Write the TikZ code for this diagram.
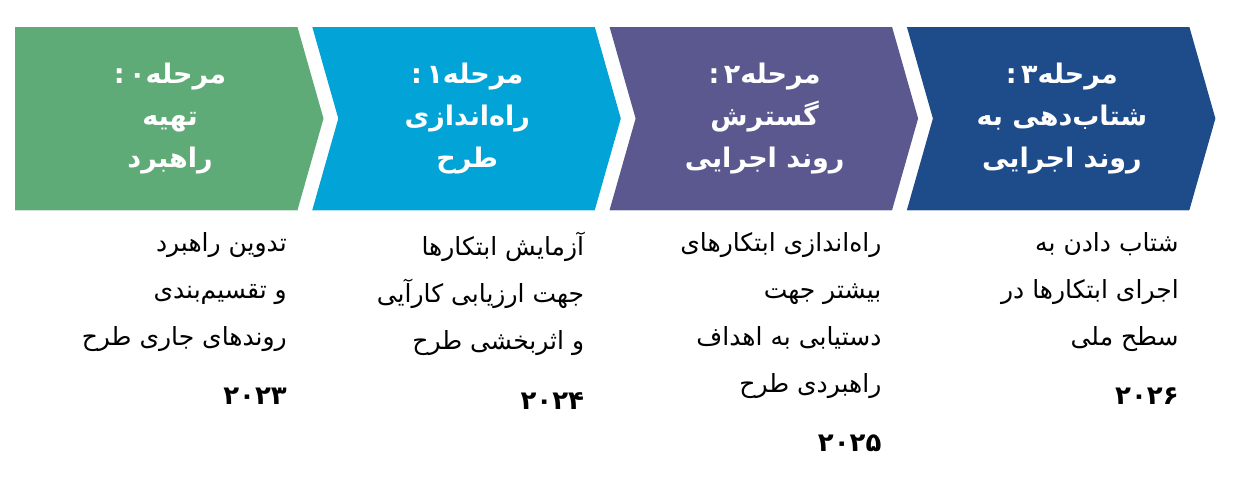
\documentclass[tikz,border=0pt]{standalone}
\usepackage{fontspec}
\newfontfamily\arabicfont[Script=Arabic]{DejaVu Sans}
\TeXXeTstate=1
\usetikzlibrary{positioning}
\newcommand{\fa}[1]{\beginR#1\endR}
\definecolor{stagezero}{HTML}{5FAB77}
\definecolor{stageone}{HTML}{02A3D7}
\definecolor{stagetwo}{HTML}{5A588F}
\definecolor{stagethree}{HTML}{1E4B89}
\begin{document}
\begin{tikzpicture}
[x=1pt,y=-1pt,
  titledecorate/.style={text=white,align=center,inner sep=0pt,
    font=\arabicfont\bfseries\fontsize{27}{42}\selectfont},
  textdecorate/.style={anchor=north east,align=right,inner sep=0pt,
    font=\arabicfont\fontsize{25}{47}\selectfont},
  yeardecorate/.style={anchor=north east,inner sep=0pt,
    font=\arabicfont\bfseries\fontsize{26}{30}\selectfont}]
\useasboundingbox[fill=white] (0,0) rectangle (1234,488);
%% chevrons and titles
\foreach \stagename/\x/\colour/\notch/\title in {
  0/15/stagezero/0/{\fa{مرحله۰\,:}\\\fa{تهیه}\\\fa{راهبرد}},
  1/312.3/stageone/26/{\fa{مرحله۱\,:}\\\fa{راه‌اندازی}\\\fa{طرح}},
  2/609.6/stagetwo/26/{\fa{مرحله۲\,:}\\\fa{گسترش}\\\fa{روند اجرایی}},
  3/906.9/stagethree/26/{\fa{مرحله۳\,:}\\\fa{شتاب‌دهی به}\\\fa{روند اجرایی}}} {
  \fill[\colour] (\x,27) -- ++(282.5,0) -- ++(26,91.5) -- ++(-26,91.5)
    -- ++(-282.5,0) -- ++(\notch,-91.5) -- cycle;
  \draw[\colour!30,line width=1pt] (\x,210) -- ++(282.5,0);
  \node (t\stagename) at (\x+155,118.5) [titledecorate] {\title};
}
%% descriptions and years
\foreach \stagename/\x/\body/\year in {
  0/287/{\fa{تدوین راهبرد}\\\fa{و تقسیم‌بندی}\\\fa{روندهای جاری طرح}}/۲۰۲۳,
  1/584.3/{\fa{آزمایش ابتکارها}\\\fa{جهت ارزیابی کارآیی}\\\fa{و اثربخشی طرح}}/۲۰۲۴,
  2/881.6/{\fa{راه‌اندازی ابتکارهای}\\\fa{بیشتر جهت}\\\fa{دستیابی به اهداف}\\\fa{راهبردی طرح}}/۲۰۲۵,
  3/1178.9/{\fa{شتاب دادن به}\\\fa{اجرای ابتکارها در}\\\fa{سطح ملی}}/۲۰۲۶} {
  \node (d\stagename) at (\x,232) [textdecorate] {\body};
  \node (y\stagename) [yeardecorate,below=36pt of d\stagename.south east,
    anchor=north east] {\year};
}
\end{tikzpicture}
\end{document}
